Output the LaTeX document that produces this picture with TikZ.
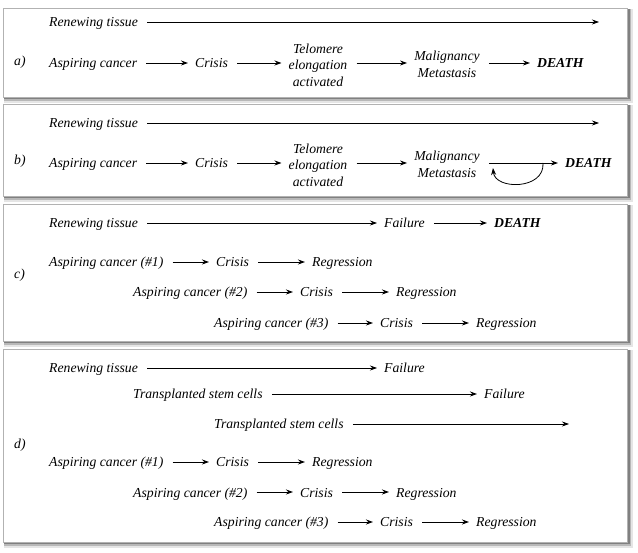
\documentclass[tikz,border=0pt]{standalone}
\usepackage{fontspec}
\setmainfont{Liberation Serif}
\usetikzlibrary{arrows.meta}
\newcommand\mypanel[4]{%
  \fill[black!10] (#1+1,#2+1) rectangle (#3+6,#4+6);
  \fill[black!28] (#1+1,#2+1) rectangle (#3+4,#4+4);
  \fill[black!50] (#1+1,#2+1) rectangle (#3+2.5,#4+2.5);
  \draw[black!30,fill=white,line width=0.6pt] (#1,#2) rectangle (#3,#4);}
\tikzset{
  txt/.style={font=\fontsize{13.7}{16.5}\selectfont\itshape, text=black},
  lbl/.style={txt, inner sep=0pt, text height=11pt, text depth=1pt, anchor=west},
  mlbl/.style={txt, inner sep=0pt, align=center},
  boldlbl/.style={lbl, font=\fontsize{13.7}{16.5}\selectfont\itshape\bfseries},
  tag/.style={txt, inner sep=0pt, anchor=west},
  arr/.style={-{Stealth[length=7pt,width=5pt]}, line width=0.9pt, shorten <=9pt, shorten >=7pt, black},
  longarr/.style={arr, line width=0.7pt, shorten >=0pt},
  curvearr/.style={-{Stealth[length=7pt,width=5pt]}, line width=0.8pt, black}
}
\begin{document}
\begin{tikzpicture}[x=1pt,y=-1pt]
\useasboundingbox (0,0) rectangle (638,553);
\fill[white] (0,0) rectangle (638,553);

% ---------- panel a ----------
\mypanel{3}{8}{627}{97}
\node[tag] (la) at (14,62) {a)};
\node[lbl] (aR) at (49,22) {Renewing tissue};
\coordinate (aRe) at (599,22);
\draw[longarr] (aR) -- (aRe);
\node[lbl] (aA) at (49,63) {Aspiring cancer};
\node[lbl] (aC) at (195,63) {Crisis};
\node[mlbl] (aT) at (318,65) {Telomere\\elongation\\activated};
\node[mlbl] (aM) at (447,64.5) {Malignancy\\Metastasis};
\node[boldlbl] (aD) at (537,63) {DEATH};
\draw[arr] (aA) -- (aC);
\draw[arr] (aC) -- (aT.west |- aC);
\draw[arr] (aT.east |- aC) -- (aM.west |- aC);
\draw[arr] (aM.east |- aD) -- (aD);

% ---------- panel b ----------
\mypanel{3}{104}{627}{196}
\node[tag] (lb) at (14,161) {b)};
\node[lbl] (bR) at (49,123) {Renewing tissue};
\coordinate (bRe) at (599,123);
\draw[longarr] (bR) -- (bRe);
\node[lbl] (bA) at (49,163) {Aspiring cancer};
\node[lbl] (bC) at (195,163) {Crisis};
\node[mlbl] (bT) at (318,165) {Telomere\\elongation\\activated};
\node[mlbl] (bM) at (447,164.5) {Malignancy\\Metastasis};
\node[boldlbl] (bD) at (565,163) {DEATH};
\draw[arr] (bA) -- (bC);
\draw[arr] (bC) -- (bT.west |- bC);
\draw[arr] (bT.east |- bC) -- (bM.west |- bC);
\draw[arr] (bM.east |- bD) -- (bD);
\coordinate (bLs) at (543,163);
\coordinate (bLe) at (493,168);
\draw[curvearr] (bLs) .. controls (545,190) and (495,190) .. (bLe);

% ---------- panel c ----------
\mypanel{3}{204}{627}{341}
\node[tag] (lc) at (14,275) {c)};
\node[lbl] (cR) at (49,223) {Renewing tissue};
\node[lbl] (cF) at (384,223) {Failure};
\node[boldlbl] (cD) at (494,223) {DEATH};
\draw[arr, line width=0.7pt] (cR) -- (cF);
\draw[arr] (cF) -- (cD);

\node[lbl] (c1A) at (49,262) {Aspiring cancer (\#1)};
\node[lbl] (c1C) at (216,262) {Crisis};
\node[lbl] (c1R) at (312,262) {Regression};
\draw[arr] (c1A) -- (c1C);
\draw[arr] (c1C) -- (c1R);

\node[lbl] (c2A) at (133,292) {Aspiring cancer (\#2)};
\node[lbl] (c2C) at (300,292) {Crisis};
\node[lbl] (c2R) at (396,292) {Regression};
\draw[arr] (c2A) -- (c2C);
\draw[arr] (c2C) -- (c2R);

\node[lbl] (c3A) at (214,323) {Aspiring cancer (\#3)};
\node[lbl] (c3C) at (380,323) {Crisis};
\node[lbl] (c3R) at (476,323) {Regression};
\draw[arr] (c3A) -- (c3C);
\draw[arr] (c3C) -- (c3R);

% ---------- panel d ----------
\mypanel{3}{349}{627}{542}
\node[tag] (ld) at (14,445) {d)};
\node[lbl] (dR) at (49,368) {Renewing tissue};
\node[lbl] (dF1) at (384,368) {Failure};
\draw[arr, line width=0.7pt] (dR) -- (dF1);
\node[lbl] (dT1) at (133,394) {Transplanted stem cells};
\node[lbl] (dF2) at (484,394) {Failure};
\draw[arr] (dT1) -- (dF2);
\node[lbl] (dT2) at (214,424) {Transplanted stem cells};
\coordinate (dT2e) at (569,424);
\draw[longarr] (dT2) -- (dT2e);

\node[lbl] (d1A) at (49,462) {Aspiring cancer (\#1)};
\node[lbl] (d1C) at (216,462) {Crisis};
\node[lbl] (d1R) at (312,462) {Regression};
\draw[arr] (d1A) -- (d1C);
\draw[arr] (d1C) -- (d1R);

\node[lbl] (d2A) at (133,492) {Aspiring cancer (\#2)};
\node[lbl] (d2C) at (300,492) {Crisis};
\node[lbl] (d2R) at (396,492) {Regression};
\draw[arr] (d2A) -- (d2C);
\draw[arr] (d2C) -- (d2R);

\node[lbl] (d3A) at (214,522) {Aspiring cancer (\#3)};
\node[lbl] (d3C) at (380,522) {Crisis};
\node[lbl] (d3R) at (476,522) {Regression};
\draw[arr] (d3A) -- (d3C);
\draw[arr] (d3C) -- (d3R);
\end{tikzpicture}
\end{document}
